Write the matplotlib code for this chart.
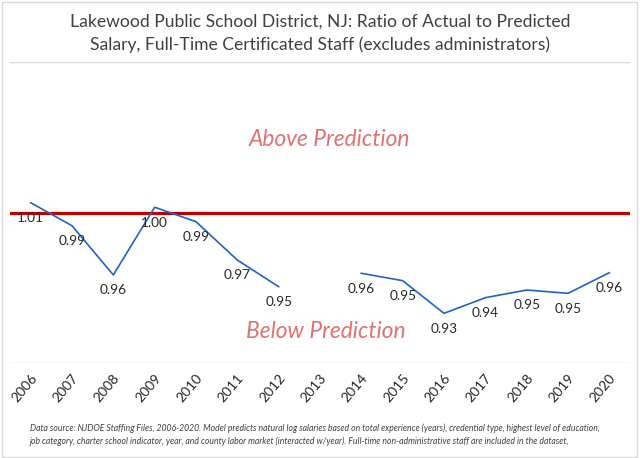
import numpy as np
import matplotlib.pyplot as plt
import matplotlib.transforms as mtransforms
from matplotlib.patches import Rectangle

plt.rcParams['font.family'] = ['Lato', 'DejaVu Sans']

years = ['2006', '2007', '2008', '2009', '2010', '2011', '2012', '2013',
         '2014', '2015', '2016', '2017', '2018', '2019', '2020']
# ratio of actual to predicted salary (2013 has no data)
ratio = [1.0065, 0.9912, 0.9585, 1.0035, 0.9939, 0.9684, 0.9507, np.nan,
         0.9596, 0.9547, 0.9330, 0.9434, 0.9485, 0.9463, 0.9600]
baseline = 1.0

title = ('Lakewood Public School District, NJ: Ratio of Actual to Predicted\n'
         'Salary, Full-Time Certificated Staff (excludes administrators)')
note = ('Data source: NJDOE Staffing Files, 2006-2020. Model predicts natural log salaries based on total experience (years), '
        'credential type, highest level of education,\n'
        'job category, charter school indicator, year, and county labor market (interacted w/year). '
        'Full-time non-administrative staff are included in the dataset,')

W, H = 640, 458
fig = plt.figure(figsize=(W / 100, H / 100), dpi=100)
ax = fig.add_axes([10 / W, (H - 363) / H, 620 / W, 301 / H])

x = np.arange(len(years))
ax.plot(x, ratio, color='#1F63C6', lw=1.2, zorder=3)
ax.axhline(baseline, color='#C00000', lw=2.3, zorder=2)

for xi, v in zip(x, ratio):
    if np.isnan(v):
        continue
    ax.annotate(f'{v:.2f}', (xi, v), xytext=(0, -11), textcoords='offset points',
                ha='center', va='center', fontsize=9.8, color='#262626', zorder=4)

ax.set_xlim(-0.5, len(years) - 0.5)
ax.set_ylim(0.90, 1.10)
ax.set_yticks([0.90, 1.10])
ax.yaxis.grid(True, color='#D9D9D9', lw=1)
ax.set_axisbelow(True)
ax.tick_params(axis='y', length=0, labelleft=False)
ax.set_xticks(x)
ax.set_xticklabels(years, rotation=50, ha='right', va='center',
                   rotation_mode='anchor', fontsize=10, color='#262626')
ax.tick_params(axis='x', length=0, pad=9)
shift = mtransforms.ScaledTranslation(4 / 100, 0, fig.dpi_scale_trans)
for lab in ax.get_xticklabels():
    lab.set_transform(lab.get_transform() + shift)
for s in ax.spines.values():
    s.set_visible(False)

ax.text(0.515, 0.744, 'Above Prediction', transform=ax.transAxes, ha='center', va='center',
        fontsize=16.4, style='italic', color='#E27272')
ax.text(0.51, 0.104, 'Below Prediction', transform=ax.transAxes, ha='center', va='center',
        fontsize=16.4, style='italic', color='#E27272')

fig.text(0.5, (H - 33) / H, title, ha='center', va='center', fontsize=12.6,
         color='#404040', linespacing=1.5)
fig.text(30 / W, (H - 435) / H, note, ha='left', va='center', fontsize=6.2,
         style='italic', color='#404040', linespacing=1.45)

fig.patches.append(Rectangle((2 / W, 1 / H), (W - 5) / W, (H - 3) / H,
                             transform=fig.transFigure, fill=False,
                             edgecolor='#D9D9D9', lw=1))

fig.savefig('out.png', dpi=100)
